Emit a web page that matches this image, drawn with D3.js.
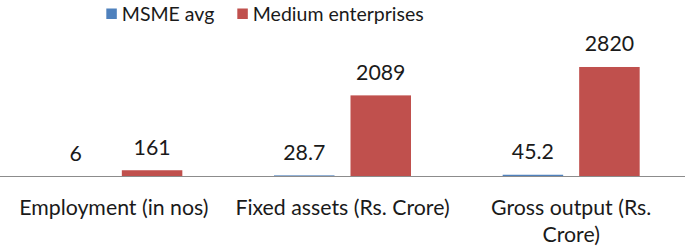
<!DOCTYPE html>
<html>
<head>
<meta charset="utf-8">
<script src="https://cdn.jsdelivr.net/npm/d3@7"></script>
<style>
  html, body { margin: 0; padding: 0; background: #fff; }
  svg { display: block; }
  text { font-family: Lato, "Open Sans", sans-serif; fill: #1a1a1a; }
</style>
</head>
<body>
<svg id="chart" width="685" height="250"></svg>
<script>
const categories = ["Employment (in nos)", "Fixed assets (Rs. Crore)", "Gross output (Rs. Crore)"];
const seriesNames = ["MSME avg", "Medium enterprises"];
const msmeAvg = [6, 28.7, 45.2];
const mediumEnterprises = [161, 2089, 2820];
const valueLabels = [["6", "28.7", "45.2"], ["161", "2089", "2820"]];
const colors = ["#4F81BD", "#C0504D"];

const W = 685, H = 250;
const FS = 21.3;
const LEG_FS = 19.5;
const svg = d3.select("#chart");
const baseY = 176.5;

const x0 = d3.scaleBand().domain(categories).range([-0.5, 685.5]).paddingInner(0).paddingOuter(0);
const groupW = 137;
const barW = groupW / 2 - 8;
const y = d3.scaleLinear().domain([0, 3000]).range([baseY, baseY - 116.5]);

const series = [msmeAvg, mediumEnterprises];
const barX = (i, si) => x0(categories[i]) + (x0.bandwidth() - groupW) / 2 + si * (barW + 16);

const g = svg.append("g");
series.forEach((vals, si) => {
  g.selectAll(null).data(vals).enter().append("rect")
    .attr("x", (d, i) => barX(i, si))
    .attr("width", barW)
    .attr("y", d => y(d))
    .attr("height", d => baseY - y(d))
    .attr("fill", colors[si]);
  g.selectAll(null).data(vals).enter().append("text")
    .attr("x", (d, i) => barX(i, si) + barW / 2)
    .attr("y", d => y(d) - 15.5)
    .attr("text-anchor", "middle")
    .attr("font-size", FS)
    .text((d, i) => valueLabels[si][i]);
});

// x axis
const xAxis = d3.axisBottom(x0).tickSize(0).tickPadding(0);
const ax = svg.append("g").attr("transform", `translate(0,${baseY})`).call(xAxis);
ax.select(".domain").attr("stroke", "#8c8c8c").attr("stroke-width", 1.2).attr("d", "M0,0H685");
ax.selectAll(".tick text").attr("font-size", FS).attr("fill", "#1a1a1a")
  .attr("font-family", "Lato, 'Open Sans', sans-serif")
  .attr("dy", 0).attr("y", 38.5);

function wrap(texts, width) {
  texts.each(function() {
    const t = d3.select(this);
    const words = t.text().split(/\s+/);
    const yv = t.attr("y");
    t.text(null);
    let line = [];
    let tspan = t.append("tspan").attr("x", 0).attr("y", yv);
    let lineNo = 0;
    words.forEach(w => {
      line.push(w);
      tspan.text(line.join(" "));
      if (tspan.node().getComputedTextLength() > width && line.length > 1) {
        line.pop();
        tspan.text(line.join(" "));
        line = [w];
        lineNo++;
        tspan = t.append("tspan").attr("x", 0).attr("y", +yv + lineNo * 27).text(w);
      }
    });
  });
}
ax.selectAll(".tick text").call(wrap, 222);

// legend: laid out from measured text widths, centred where the reference legend sits
const leg = svg.append("g");
const sq = 10.5, gapSq = 5, gapItem = 23;
const items = seriesNames.map((n, i) => {
  const r = leg.append("rect").attr("y", 8.5).attr("width", sq).attr("height", sq).attr("fill", colors[i]);
  const t = leg.append("text").attr("y", 20.5).attr("font-size", LEG_FS).text(n);
  return { r, t, w: t.node().getComputedTextLength() };
});
const totalW = d3.sum(items, d => sq + gapSq + d.w) + gapItem * (items.length - 1);
let cx = 265 - totalW / 2;
items.forEach(it => {
  it.r.attr("x", cx);
  it.t.attr("x", cx + sq + gapSq);
  cx += sq + gapSq + it.w + gapItem;
});
</script>
</body>
</html>
